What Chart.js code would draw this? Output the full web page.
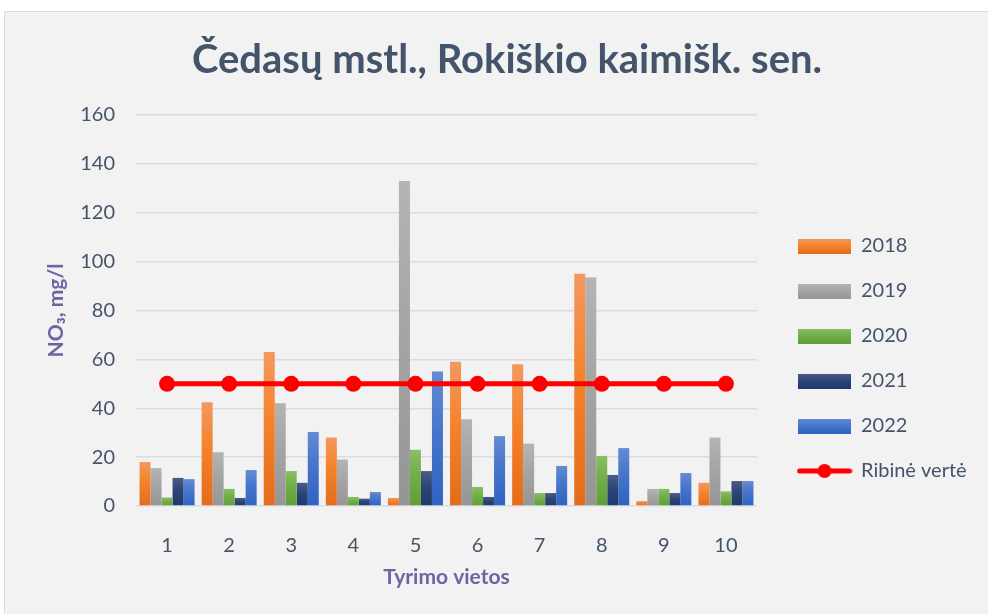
<!DOCTYPE html>
<html>
<head>
<meta charset="utf-8">
<script src="https://cdn.jsdelivr.net/npm/chart.js@4"></script>
<style>
  html, body { margin: 0; padding: 0; background: #ffffff; overflow: hidden; }
  #box { position: absolute; left: 4px; top: 11px; width: 1004px; height: 602px;
         background: #f2f2f2; border: 1px solid #d9dce0; }
  canvas { display: block; }
</style>
</head>
<body>
<div id="box"><canvas id="chart" width="1004" height="602"></canvas></div>
<script>
// ── data ──────────────────────────────────────────────────────
const categories = ['1', '2', '3', '4', '5', '6', '7', '8', '9', '10'];
const years = ['2018', '2019', '2020', '2021', '2022'];
const v2018 = [18, 42.5, 63, 28, 3.3, 59, 58, 95, 2, 9.5];
const v2019 = [15.5, 22, 42, 19, 133, 35.5, 25.5, 93.5, 7, 28];
const v2020 = [3.5, 7, 14.3, 3.7, 23, 7.8, 5.3, 20.5, 7, 6];
const v2021 = [11.5, 3.3, 9.5, 3, 14.3, 3.7, 5.3, 12.7, 5.3, 10.2];
const v2022 = [11, 14.7, 30.3, 5.7, 55, 28.6, 16.4, 23.7, 13.5, 10.2];
const limitValues = [50, 50, 50, 50, 50, 50, 50, 50, 50, 50];
const limitLabel = 'Ribinė vertė';
const yTicks = [0, 20, 40, 60, 80, 100, 120, 140, 160];

const TITLE = 'Čedasų mstl., Rokiškio kaimišk. sen.';
const Y_TITLE = 'NO₃, mg/l';
const X_TITLE = 'Tyrimo vietos';

// gradient stops top / middle / bottom per series
const FILLS = [
    ['#f4985f', '#f5822b', '#e36c1b'],
    ['#b4b4b4', '#a5a5a5', '#959595'],
    ['#8abf66', '#72ad48', '#5f9f36'],
    ['#4b5c84', '#2c4578', '#1d396f'],
    ['#648bd2', '#4675cb', '#2e63c2']
];
const RED = '#ff0000';
const TEXT = '#44546a';
const AXIS_TITLE = '#6b66a3';
const GRID = '#d8dce2';
const FONT = 'Lato';

Chart.defaults.font.family = FONT;

function barFill(stops) {
    return (c) => {
        const chart = c.chart;
        if (!chart.chartArea || c.type !== 'data') return stops[1];
        const y = chart.scales.y;
        const top = y.getPixelForValue(c.raw);
        const bottom = y.getPixelForValue(0);
        if (!isFinite(top) || bottom - top < 1) return stops[1];
        const g = chart.ctx.createLinearGradient(0, top, 0, bottom);
        g.addColorStop(0, stops[0]);
        g.addColorStop(0.45, stops[1]);
        g.addColorStop(1, stops[2]);
        return g;
    };
}

// legend swatches
function swatch(stops) {
    const c = document.createElement('canvas');
    c.width = 53; c.height = 15;
    const x = c.getContext('2d');
    const g = x.createLinearGradient(0, 0, 0, 15);
    g.addColorStop(0, stops[0]); g.addColorStop(0.5, stops[1]); g.addColorStop(1, stops[2]);
    x.fillStyle = g;
    x.fillRect(0, 0, 53, 15);
    return c;
}
function lineSwatch() {
    const c = document.createElement('canvas');
    c.width = 56; c.height = 16;
    const x = c.getContext('2d');
    x.strokeStyle = RED; x.lineWidth = 5; x.lineCap = 'round';
    x.beginPath(); x.moveTo(3, 8); x.lineTo(53, 8); x.stroke();
    x.fillStyle = RED;
    x.beginPath(); x.arc(28, 8, 7, 0, Math.PI * 2); x.fill();
    return c;
}

const seriesValues = [v2018, v2019, v2020, v2021, v2022];
const datasets = seriesValues.map((vals, i) => ({
    type: 'bar',
    label: years[i],
    data: vals,
    backgroundColor: barFill(FILLS[i]),
    borderWidth: 0,
    categoryPercentage: 0.886,
    barPercentage: 1.0,
    order: 2
}));
datasets.push({
    type: 'line',
    label: limitLabel,
    data: limitValues,
    borderColor: RED,
    backgroundColor: RED,
    borderWidth: 5,
    pointRadius: 8,
    pointBorderWidth: 0,
    pointBackgroundColor: RED,
    fill: false,
    tension: 0,
    order: 0
});

const swatches = FILLS.map(swatch).concat([lineSwatch()]);

// legend starts at canvas x 768; whatever it does not use on the right is
// taken up by an empty outer axis so the title stays centred on the box
const LEG_FONT = 20, LEG_PAD = 25, LEG_BOX = 53;
const LEGEND_SPAN = 1004 - 768;

new Chart(document.getElementById('chart').getContext('2d'), {
    data: { labels: categories, datasets: datasets },
    options: {
        responsive: false,
        animation: false,
        devicePixelRatio: 1,
        layout: { autoPadding: false, padding: 0 },
        plugins: {
            title: {
                display: true, text: TITLE, color: TEXT,
                font: { size: 40, weight: 'bold' },
                padding: { top: 24, bottom: 31 }
            },
            legend: {
                position: 'right', align: 'end', fullSize: false,
                maxWidth: LEGEND_SPAN,
                labels: {
                    color: TEXT, font: { size: LEG_FONT },
                    usePointStyle: true, pointStyleWidth: LEG_BOX, boxHeight: 15,
                    padding: LEG_PAD,
                    generateLabels: (chart) => chart.data.datasets.map((d, i) => ({
                        text: d.label, pointStyle: swatches[i], datasetIndex: i,
                        hidden: false, lineWidth: 0, fontColor: TEXT,
                        fillStyle: 'rgba(0,0,0,0)', strokeStyle: 'rgba(0,0,0,0)'
                    }))
                }
            },
            tooltip: { enabled: false }
        },
        scales: {
            x: {
                grid: { display: false }, border: { display: false },
                ticks: { color: TEXT, font: { size: 20 }, padding: 20 },
                title: { display: true, text: X_TITLE, color: AXIS_TITLE,
                         font: { size: 21, weight: 'bold' }, padding: { bottom: 24 } },
                afterFit: (s) => { s.height = 108; }
            },
            y: {
                min: 0, max: 160,
                afterBuildTicks: (s) => { s.ticks = yTicks.map(v => ({ value: v })); },
                grid: { color: GRID, lineWidth: 1.5, drawTicks: false },
                border: { display: false },
                ticks: { color: TEXT, font: { size: 20 }, padding: 21 },
                title: { display: true, text: Y_TITLE, color: AXIS_TITLE,
                         font: { size: 21, weight: 'bold' }, padding: { top: 39 } },
                afterFit: (s) => { s.width = 131; }
            },
            gapInner: {
                type: 'linear', position: 'right', display: true, weight: 0,
                grid: { display: false }, border: { display: false },
                ticks: { display: false },
                afterFit: (s) => { s.width = 16; }
            },
            gapOuter: {
                type: 'linear', position: 'right', display: true, weight: 2000,
                grid: { display: false }, border: { display: false },
                ticks: { display: false },
                afterFit: (s) => {
                    const lw = s.chart.legend && s.chart.legend.width ? s.chart.legend.width : 213;
                    s.width = Math.max(0, LEGEND_SPAN - lw);
                }
            }
        }
    }
});
</script>
</body>
</html>
